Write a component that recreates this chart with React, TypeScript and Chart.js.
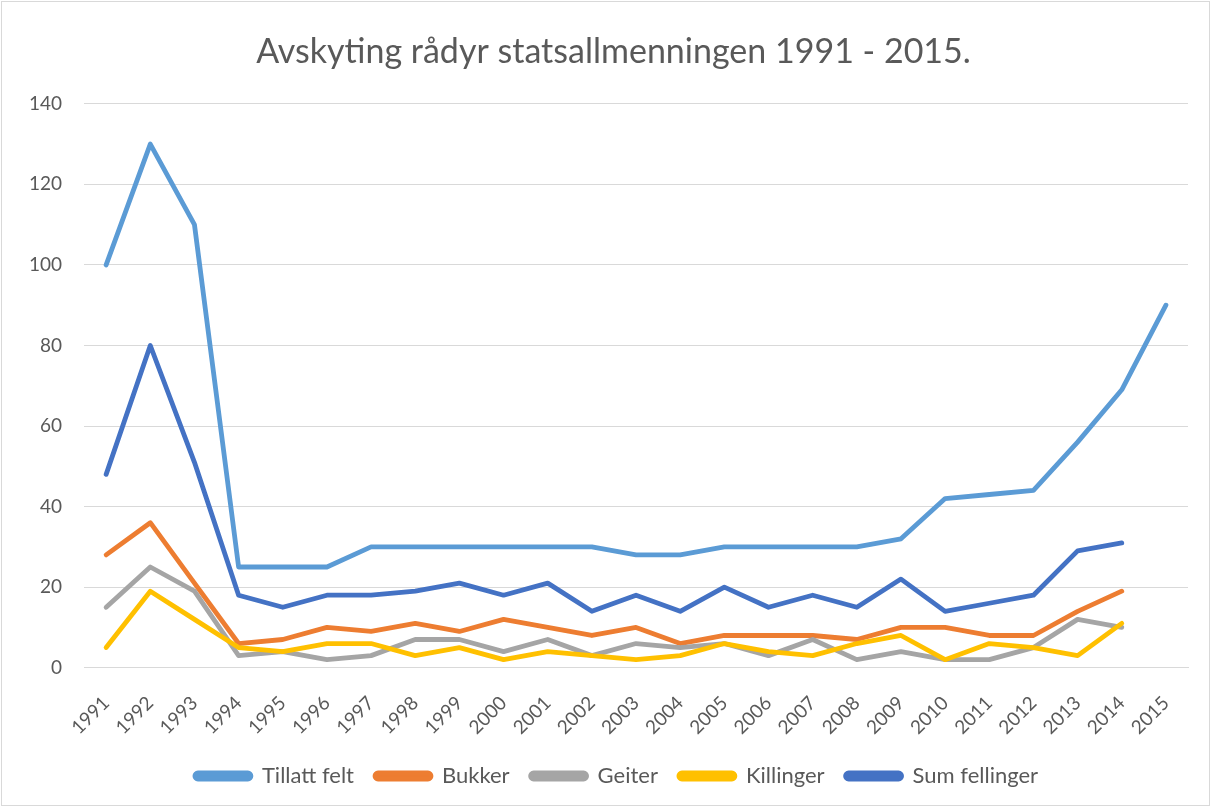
import React, { useEffect, useRef } from "react";
import { Chart, registerables } from "chart.js";

Chart.register(...registerables);

const years = ["1991","1992","1993","1994","1995","1996","1997","1998","1999","2000","2001","2002","2003","2004","2005","2006","2007","2008","2009","2010","2011","2012","2013","2014","2015"];
const tillattFelt = [100,130,110,25,25,25,30,30,30,30,30,30,28,28,30,30,30,30,32,42,43,44,56,69,90];
const bukker = [28,36,21,6,7,10,9,11,9,12,10,8,10,6,8,8,8,7,10,10,8,8,14,19,null];
const geiter = [15,25,19,3,4,2,3,7,7,4,7,3,6,5,6,3,7,2,4,2,2,5,12,10,null];
const killinger = [5,19,12,5,4,6,6,3,5,2,4,3,2,3,6,4,3,6,8,2,6,5,3,11,null];
const sumFellinger = [48,80,51,18,15,18,18,19,21,18,21,14,18,14,20,15,18,15,22,14,16,18,29,31,null];
const titleText = "Avskyting rådyr statsallmenningen 1991 - 2015.";

const FONT = "Lato, 'Open Sans', sans-serif";
const TXT = "#595959";

const boxShift = {
  id: "boxShift",
  afterLayout(chart: any) {
    if (chart.legend) {
      chart.legend.left += 19;
      chart.legend.right += 19;
    }
    if (chart.titleBlock) {
      chart.titleBlock.left += 16;
      chart.titleBlock.right += 16;
    }
  },
};

export default function App() {
  const ref = useRef<HTMLCanvasElement | null>(null);
  useEffect(() => {
    if (!ref.current) return;
    const mk = (label: string, data: (number | null)[], color: string, order: number) => ({
      label,
      data,
      borderColor: color,
      backgroundColor: color,
      borderWidth: 4.8,
      pointRadius: 0,
      pointHoverRadius: 0,
      tension: 0,
      borderCapStyle: "round" as const,
      borderJoinStyle: "round" as const,
      spanGaps: false,
      order,
    });
    const chart = new Chart(ref.current, {
      type: "line",
      data: {
        labels: years,
        datasets: [
          mk("Tillatt felt", tillattFelt, "#5B9BD5", 5),
          mk("Bukker", bukker, "#ED7D31", 4),
          mk("Geiter", geiter, "#A5A5A5", 3),
          mk("Killinger", killinger, "#FFC000", 2),
          mk("Sum fellinger", sumFellinger, "#4472C4", 1),
        ],
      },
      plugins: [boxShift],
      options: {
        animation: false,
        responsive: false,
        maintainAspectRatio: false,
        layout: { padding: { left: 7, right: 25, top: 0, bottom: 12 } },
        plugins: {
          title: {
            display: true,
            text: titleText,
            color: TXT,
            font: { family: FONT, size: 34, weight: "normal" },
            padding: { top: 32, bottom: 31 },
          },
          legend: {
            position: "bottom",
            labels: {
              color: TXT,
              font: { family: FONT, size: 22 },
              boxWidth: 56,
              boxHeight: 6,
              padding: 21,
              useBorderRadius: true,
              borderRadius: 3,
              sort: (a: any, b: any) => a.datasetIndex - b.datasetIndex,
            },
          },
          tooltip: { enabled: false },
        },
        scales: {
          x: {
            offset: true,
            grid: { display: false, drawTicks: false },
            border: { display: true, color: "#d9d9d9" },
            ticks: {
              color: TXT,
              font: { family: FONT, size: 19 },
              minRotation: 45,
              maxRotation: 45,
              padding: 24,
              autoSkip: false,
            },
            afterFit: (scale: any) => {
              scale.height = scale.height - 19;
            },
          },
          y: {
            min: 0,
            max: 140,
            grid: { color: "#d9d9d9", lineWidth: 1, drawTicks: false },
            border: { display: false },
            ticks: {
              stepSize: 20,
              color: TXT,
              font: { family: FONT, size: 19 },
              padding: 22,
            },
          },
        },
      },
    });
    return () => chart.destroy();
  }, []);
  return (
    <div style={{ position: "fixed", left: 0, top: 0, width: 1213, height: 809, background: "#fff" }}>
      <div style={{ position: "absolute", left: 1, top: 1, width: 1209, height: 805, border: "1px solid #d9d9d9", boxSizing: "border-box" }} />
      <canvas ref={ref} width={1213} height={809} style={{ position: "absolute", left: 0, top: 0 }} />
    </div>
  );
}
